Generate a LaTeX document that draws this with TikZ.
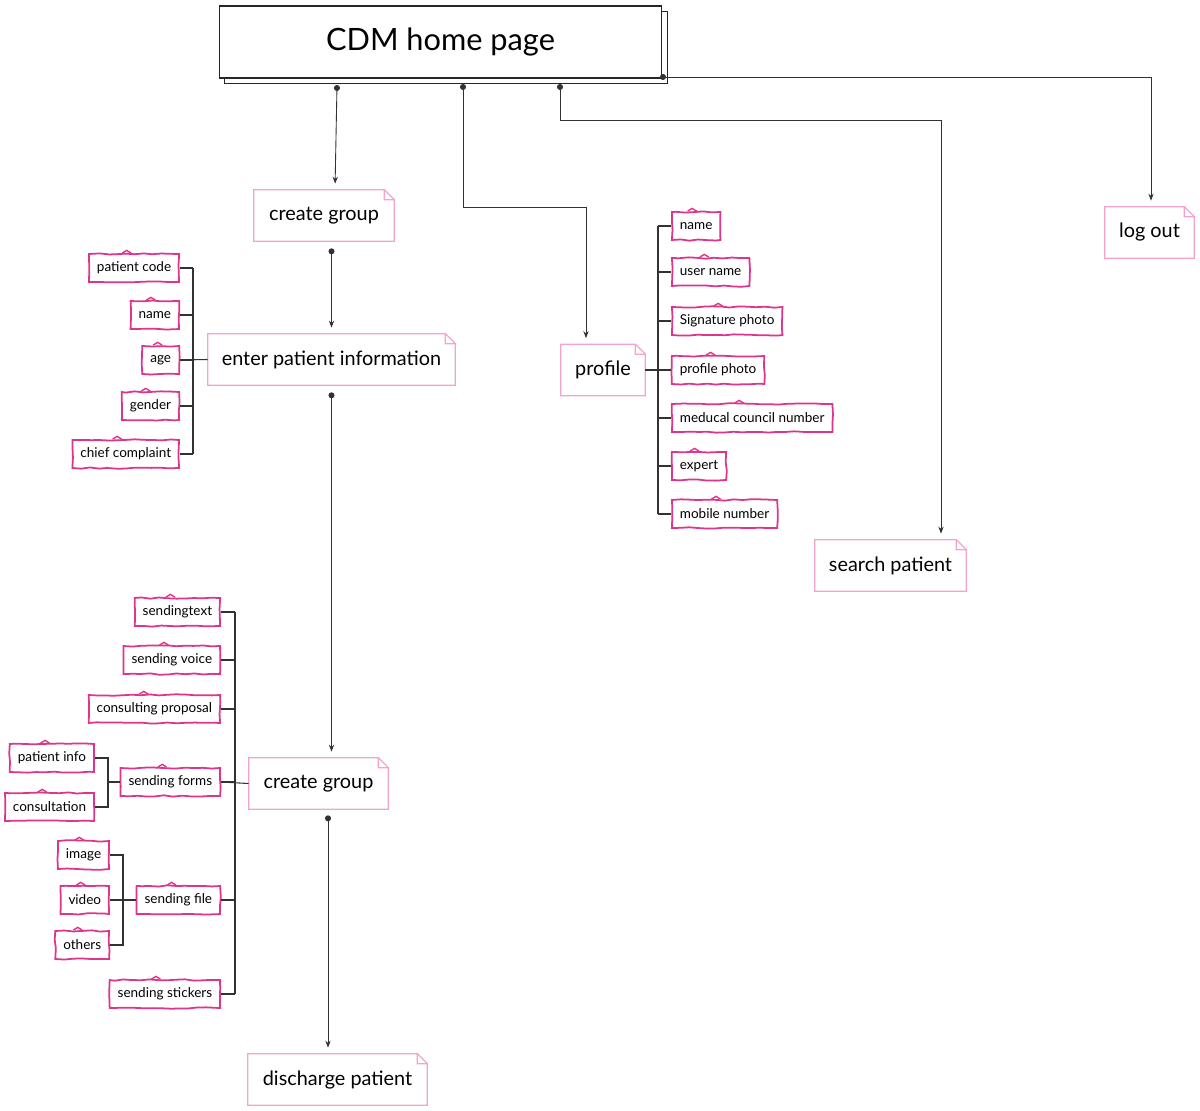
\documentclass[tikz,border=0pt]{standalone}
\usepackage{fontspec}
\setmainfont{Lato}
\usetikzlibrary{arrows.meta,shadows,decorations.pathmorphing,calc}
\definecolor{notepink}{RGB}{243,163,206}
\definecolor{sketchpink}{RGB}{221,52,140}
\definecolor{wire}{RGB}{50,50,50}
\tikzset{
  homebox/.style={draw=black!85,fill=white,line width=0.6pt,minimum width=88.6mm,minimum height=14.4mm,
    font=\fontsize{17.5}{20}\selectfont,
    copy shadow={shadow xshift=1.1mm,shadow yshift=-1.1mm,draw=black!85,fill=white}},
  notebox/.style={inner sep=0pt,minimum height=10.2mm,font=\fontsize{11.3}{13}\selectfont,
    append after command={\pgfextra{\let\thenote=\tikzlastnode
      \draw[notepink,line width=0.7pt,line join=miter]
        (\thenote.south west) -- (\thenote.north west) -- ([xshift=-2mm]\thenote.north east)
        -- ([yshift=-2mm]\thenote.north east) -- (\thenote.south east) -- cycle
        ([xshift=-2mm]\thenote.north east) |- ([yshift=-2mm]\thenote.north east);}}},
  sketchbox/.style={draw=sketchpink,line width=1pt,inner xsep=1.6mm,inner ysep=0pt,minimum height=5.6mm,
    font=\fontsize{7.7}{9}\selectfont,decorate,decoration={random steps,segment length=5pt,amplitude=0.4pt},
    append after command={\pgfextra{\let\thebox=\tikzlastnode
      \draw[sketchpink,line width=0.8pt]
        ($(\thebox.north west)!0.42!(\thebox.north east)+(-0.9mm,0)$) -- ++(0.9mm,0.55mm) -- ++(0.9mm,-0.55mm);}}},
  link/.style={draw=wire,line width=0.5pt,{Circle[length=3.4pt]}-{Stealth[length=4pt,width=3pt]},shorten >=1.2mm},
  tree/.style={draw=wire,line width=0.6pt}
}

\begin{document}
\begin{tikzpicture}[x=0.02cm,y=-0.02cm]
  \pgfmathsetseed{11}
  \useasboundingbox (0,0) rectangle (1200,1111);

  % main pages
  \node[homebox] (home) at (440.5,42) {CDM home page};
  \node[notebox,minimum width=28mm] (grp) at (324,215.5) {create group};
  \node[notebox,minimum width=49.4mm] (ep) at (331.5,359.5) {enter patient information};
  \node[notebox,minimum width=16.8mm] (prof) at (603,370) {profile};
  \node[notebox,minimum width=30.2mm] (srch) at (890.5,565.5) {search patient};
  \node[notebox,minimum width=17.8mm] (logout) at (1149.5,232.5) {log out};
  \node[notebox,minimum width=27.8mm] (grp2) at (318.5,783.5) {create group};
  \node[notebox,minimum width=35.8mm] (dis) at (337.5,1079.5) {discharge patient};

  \coordinate (h1) at (337,85);
  \coordinate (h2) at (463,84);
  \coordinate (h3) at (560,84);
  \coordinate (h4) at (660,77);

  \draw[link] (h1) -- ([xshift=2.2mm]grp.north);
  \draw[link] (h2) -- (h2 |- 0,207) -| ([xshift=-3.4mm]prof.north);
  \draw[link] (h3) -- (h3 |- 0,120) -| ([xshift=10.1mm]srch.north);
  \draw[link] (h4) -| ([xshift=0.3mm]logout.north);
  \draw[link] ([yshift=-1.4mm]grp.south -| ep.north) -- (ep.north);
  \draw[link] ([yshift=-1.4mm]ep.south) -- (ep.south |- grp2.north);
  \draw[link] ([xshift=1.9mm,yshift=-1.2mm]grp2.south) -- ([xshift=1.9mm]grp2.south |- dis.north);

  % patient fields
  \node[sketchbox,anchor=east] (pcode) at (180,268) {patient code};
  \node[sketchbox,anchor=east] (pname) at (180,315) {name};
  \node[sketchbox,anchor=east] (page) at (180,360) {age};
  \node[sketchbox,anchor=east] (pgender) at (180,406) {gender};
  \node[sketchbox,anchor=east] (pchief) at (180,454) {chief complaint};
  \coordinate (busA) at (193,0);
  \foreach \n in {pcode,pname,page,pgender,pchief}
    \draw[tree] (\n.east) -- (\n.east -| busA);
  \draw[tree] (pcode.east -| busA) -- (pchief.east -| busA);
  \draw[tree] (page.east) -- (ep.west);

  % profile fields
  \node[sketchbox,anchor=west] (uname) at (671,226) {name};
  \node[sketchbox,anchor=west] (uuser) at (671,272) {user name};
  \node[sketchbox,anchor=west] (usign) at (671,321) {Signature photo};
  \node[sketchbox,anchor=west] (uphoto) at (671,370) {profile photo};
  \node[sketchbox,anchor=west] (ucouncil) at (671,418) {meducal council number};
  \node[sketchbox,anchor=west] (uexpert) at (671,466) {expert};
  \node[sketchbox,anchor=west] (umobile) at (671,514) {mobile number};
  \coordinate (busB) at (658,0);
  \foreach \n in {uname,uuser,usign,uphoto,ucouncil,uexpert,umobile}
    \draw[tree] (\n.west) -- (\n.west -| busB);
  \draw[tree] (uname.west -| busB) -- (umobile.west -| busB);
  \draw[tree] (prof.east) -- (uphoto.west);

  % group actions
  \node[sketchbox,anchor=east] (stext) at (221,612) {sendingtext};
  \node[sketchbox,anchor=east] (svoice) at (221,660) {sending voice};
  \node[sketchbox,anchor=east] (sprop) at (221,709) {consulting proposal};
  \node[sketchbox,anchor=east] (sforms) at (221,782) {sending forms};
  \node[sketchbox,anchor=east] (sfile) at (221,900) {sending file};
  \node[sketchbox,anchor=east] (sstick) at (221,994) {sending stickers};
  \coordinate (busC) at (235,0);
  \foreach \n in {stext,svoice,sprop,sforms,sfile,sstick}
    \draw[tree] (\n.east) -- (\n.east -| busC);
  \draw[tree] (stext.east -| busC) -- (sstick.east -| busC);
  \draw[tree] (sforms.east) -- (grp2.west);

  \node[sketchbox,anchor=east] (pinfo) at (95,758) {patient info};
  \node[sketchbox,anchor=east] (consult) at (95,807) {consultation};
  \coordinate (busD) at (108,0);
  \draw[tree] (pinfo.east) -- (pinfo.east -| busD) -- (consult.east -| busD) -- (consult.east);
  \draw[tree] (sforms.west) -- (sforms.west -| busD);

  \node[sketchbox,anchor=east] (fimage) at (110,855) {image};
  \node[sketchbox,anchor=east] (fvideo) at (110,900) {video};
  \node[sketchbox,anchor=east] (fother) at (110,945) {others};
  \coordinate (busE) at (123,0);
  \draw[tree] (fimage.east) -- (fimage.east -| busE) -- (fother.east -| busE) -- (fother.east);
  \draw[tree] (fvideo.east) -- (sfile.west);
\end{tikzpicture}
\end{document}
